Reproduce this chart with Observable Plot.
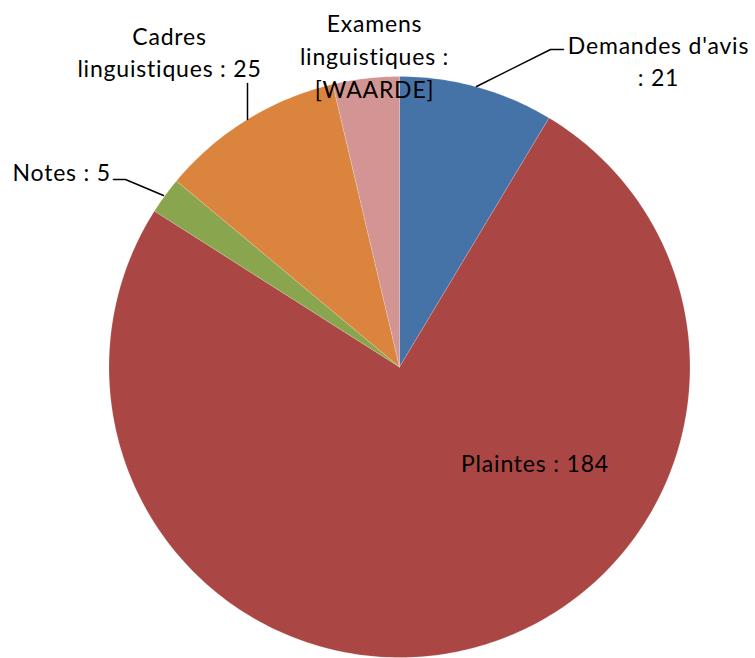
<!DOCTYPE html>
<html>
<head>
<meta charset="utf-8">
<script src="https://cdn.jsdelivr.net/npm/d3@7"></script>
<script src="https://cdn.jsdelivr.net/npm/@observablehq/plot@0.6"></script>
<style>
  html, body { margin: 0; padding: 0; background: #fff; }
  #chart svg text { letter-spacing: 0.8px; }
</style>
</head>
<body>
<div id="chart"></div>
<script>
// ---- data ----
const categories = ["Demandes d'avis", "Plaintes", "Notes", "Cadres linguistiques", "Examens linguistiques"];
const values = [21, 184, 5, 25, 9]; // Examens value
const labelTexts = ["Demandes d'avis\n: 21", "Plaintes : 184", "Notes : 5", "Cadres\nlinguistiques : 25", "Examens\nlinguistiques :\n[WAARDE]"];
const colors = ["#4572A7", "#AA4643", "#89A54E", "#DB843D", "#D39594"];

// ---- layout ----
const W = 755, H = 658;
const cx = 399, cy = 366.5, R = 290.5;
const toX = px => (px - cx) / R;
const toY = py => (cy - py) / R;

// label positions (pixels), anchors, and leader lines
const labelLayout = [
  {x: 658, y: 59, anchor: "middle"},
  {x: 534.5, y: 461, anchor: "middle"},
  {x: 12, y: 170, anchor: "start"},
  {x: 169, y: 50, anchor: "middle"},
  {x: 374, y: 54, anchor: "middle"}
];
const leaderLayout = [
  [[476, 86], [550, 49], [563, 49]],
  null,
  [[113, 179], [125, 179], [163, 195]],
  [[247, 83], [247, 119]],
  null
];

// ---- slices ----
const pie = d3.pie().sort(null).startAngle(0).endAngle(2 * Math.PI)(values);
const slicePts = [];
pie.forEach((p, i) => {
  const n = Math.max(4, Math.ceil((p.endAngle - p.startAngle) / (Math.PI / 180)));
  slicePts.push({cat: categories[i], x: 0, y: 0, i});
  for (let k = 0; k <= n; k++) {
    const a = p.startAngle + (p.endAngle - p.startAngle) * k / n;
    slicePts.push({cat: categories[i], x: Math.sin(a), y: Math.cos(a), i});
  }
  slicePts.push({cat: categories[i], x: 0, y: 0, i});
});

const labels = categories.map((c, i) => ({
  text: labelTexts[i], x: toX(labelLayout[i].x), y: toY(labelLayout[i].y), anchor: labelLayout[i].anchor
}));
const leaders = [];
leaderLayout.forEach((l, i) => {
  if (!l) return;
  l.forEach(([px, py]) => leaders.push({cat: categories[i], x: toX(px), y: toY(py)}));
});

const chart = Plot.plot({
  width: W, height: H,
  margin: 0,
  x: {domain: [toX(0), toX(W)], range: [0, W], axis: null},
  y: {domain: [toY(H), toY(0)], range: [H, 0], axis: null},
  style: {fontFamily: "Lato, sans-serif", fontSize: "23px", background: "#fff"},
  marks: [
    Plot.line(slicePts, {x: "x", y: "y", z: "cat", fill: d => colors[d.i], stroke: "#ffffff", strokeWidth: 0.5, strokeOpacity: 0.35, curve: "linear"}),
    Plot.line(leaders, {x: "x", y: "y", z: "cat", stroke: "#000", strokeWidth: 1.5}),
    ...["middle", "start"].map(a => Plot.text(labels.filter(d => d.anchor === a), {
      x: "x", y: "y", text: "text", textAnchor: a, lineAnchor: "middle", lineHeight: 1.43,
      fill: "#000", fontSize: 23
    }))
  ]
});
document.getElementById("chart").appendChild(chart);
</script>
</body>
</html>
